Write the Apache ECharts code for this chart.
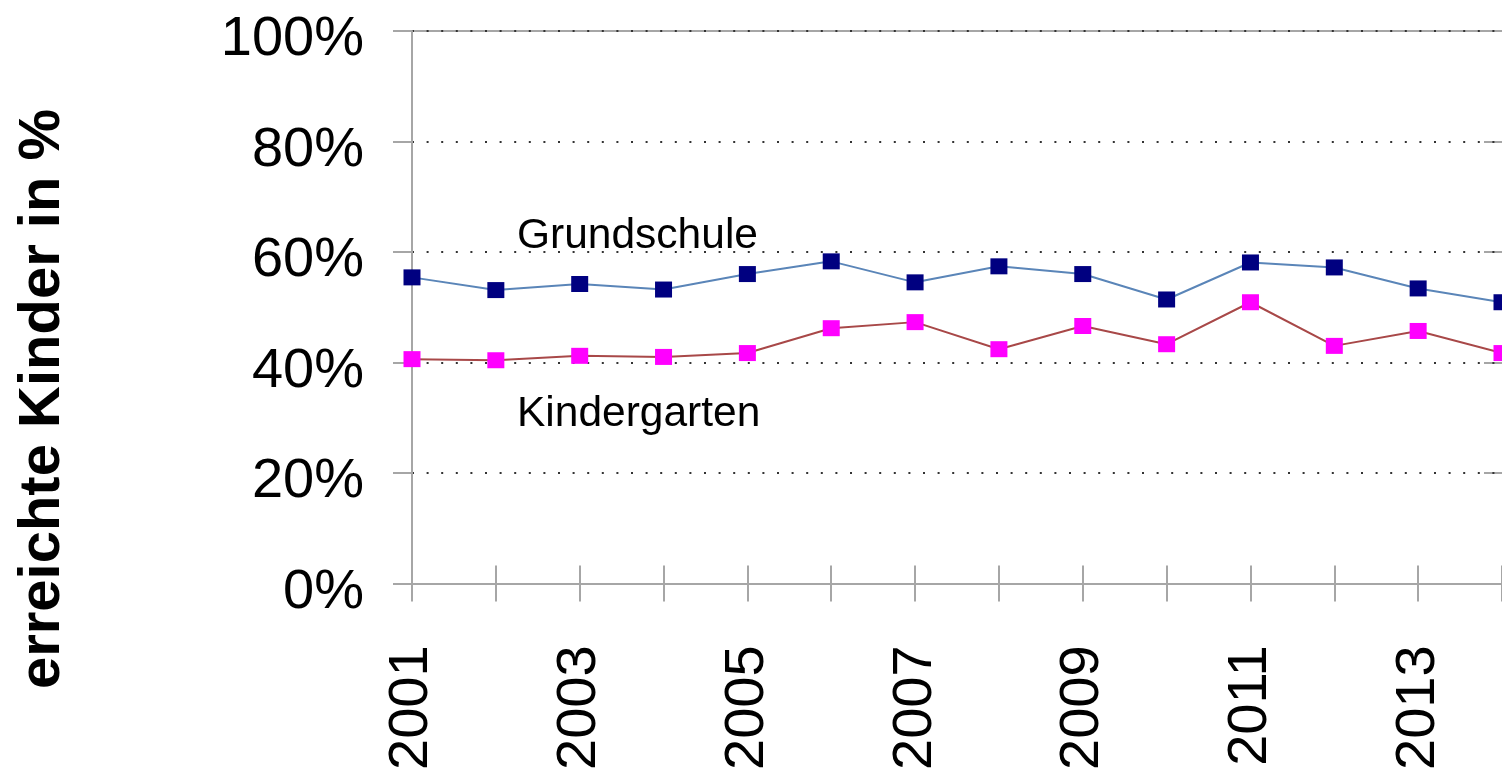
<!DOCTYPE html>
<html>
<head>
<meta charset="utf-8">
<script src="https://cdn.jsdelivr.net/npm/echarts@6/dist/echarts.min.js"></script>
<style>
  html, body { margin: 0; padding: 0; background: #fff; }
  #chart { width: 1502px; height: 773px; }
</style>
</head>
<body>
<div id="chart"></div>
<script>
const years = ["2001", "2002", "2003", "2004", "2005", "2006", "2007", "2008", "2009", "2010", "2011", "2012", "2013", "2014"];
const grundschule = [55.4, 53.1, 54.2, 53.2, 56.0, 58.3, 54.5, 57.4, 56.0, 51.4, 58.1, 57.2, 53.4, 50.9];
const kindergarten = [40.6, 40.4, 41.2, 41.0, 41.7, 46.2, 47.3, 42.4, 46.6, 43.3, 50.9, 43.0, 45.7, 41.7];
const yTicks = [0, 20, 40, 60, 80, 100];

const font = "Liberation Sans, Arial, sans-serif";
const axisGrey = "#a6a6a6";

const chart = echarts.init(document.getElementById("chart"), null, { renderer: "canvas" });

const yBase = {
  type: "value",
  min: yTicks[0],
  max: yTicks[yTicks.length - 1],
  interval: 20,
};

chart.setOption({
  animation: false,
  textStyle: { fontFamily: font },
  grid: { left: 412, top: 31, width: 1092, height: 554, containLabel: false },
  xAxis: [
    {
      type: "category",
      data: years,
      position: "bottom",
      boundaryGap: false,
      z: 3,
      axisLine: { lineStyle: { color: axisGrey, width: 2 } },
      axisTick: { length: 18, interval: 0, lineStyle: { color: axisGrey, width: 2 } },
      axisLabel: {
        interval: 1,
        rotate: 90,
        margin: 62,
        color: "#000",
        fontSize: 56,
        fontFamily: font,
      },
      splitLine: { show: false },
    },
    {
      type: "category",
      data: years,
      position: "bottom",
      boundaryGap: false,
      axisLine: { show: false },
      axisTick: { inside: true, length: 18, interval: 0, lineStyle: { color: axisGrey, width: 2 } },
      axisLabel: { show: false },
      splitLine: { show: false },
    },
    {
      type: "category",
      data: years,
      position: "top",
      boundaryGap: false,
      z: 0,
      axisLine: { lineStyle: { color: axisGrey, width: 2 } },
      axisTick: { show: false },
      axisLabel: { show: false },
      splitLine: { show: false },
    },
  ],
  yAxis: [
    {
      ...yBase,
      z: 2,
      axisLine: { show: true, lineStyle: { color: axisGrey, width: 2 } },
      axisTick: { show: true, length: 19, lineStyle: { color: axisGrey, width: 2 } },
      axisLabel: {
        formatter: "{value}%",
        margin: 48,
        color: "#000",
        fontSize: 56,
        fontFamily: font,
        verticalAlign: "top",
        lineHeight: 18,
      },
      splitLine: { lineStyle: { color: "#333", width: 2, type: [2, 12.6] } },
    },
    {
      ...yBase,
      axisLine: { show: false },
      axisTick: { show: true, inside: true, length: 18, lineStyle: { color: axisGrey, width: 2 } },
      axisLabel: { show: false },
      splitLine: { show: false },
    },
  ],
  series: [
    {
      name: "Grundschule",
      type: "line",
      data: grundschule,
      symbol: "rect",
      symbolSize: [17, 16],
      lineStyle: { color: "#5a85b8", width: 2 },
      itemStyle: { color: "#000080" },
      z: 3,
    },
    {
      name: "Kindergarten",
      type: "line",
      data: kindergarten,
      symbol: "rect",
      symbolSize: [17, 16],
      lineStyle: { color: "#a84848", width: 2 },
      itemStyle: { color: "#ff00ff" },
      z: 3,
    },
  ],
  graphic: [
    {
      type: "text",
      x: 43,
      y: 399,
      rotation: Math.PI / 2,
      style: {
        text: "erreichte Kinder in %",
        fontFamily: font,
        fontWeight: "bold",
        fontSize: 58,
        fill: "#000",
        align: "center",
        verticalAlign: "middle",
      },
    },
    {
      type: "text",
      x: 517,
      y: 236,
      style: {
        text: "Grundschule",
        fontFamily: font,
        fontSize: 42.5,
        fill: "#000",
        align: "left",
        verticalAlign: "middle",
      },
    },
    {
      type: "text",
      x: 517,
      y: 414,
      style: {
        text: "Kindergarten",
        fontFamily: font,
        fontSize: 42.5,
        fill: "#000",
        align: "left",
        verticalAlign: "middle",
      },
    },
  ],
});
</script>
</body>
</html>
